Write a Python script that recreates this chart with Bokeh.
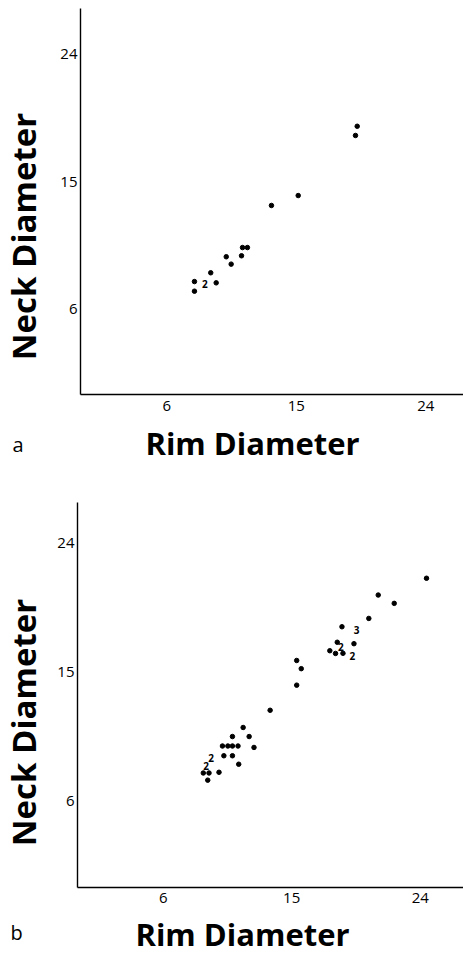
import math
from bokeh.plotting import figure
from bokeh.models import Range1d, FixedTicker, Label
from bokeh.layouts import column
from bokeh.embed import file_html
from bokeh.resources import INLINE
from bokeh.core.properties import value

# ---------------- data ----------------
tick_values = [6, 15, 24]
x_title = "Rim Diameter"
y_title = "Neck Diameter"

# panel a: single vessels
a_rim = [19.23, 19.11, 15.13, 13.27, 11.60, 11.26, 11.19, 10.13, 10.47, 9.05, 9.43, 7.92, 7.92]
a_neck = [18.93, 18.28, 14.04, 13.34, 10.37, 10.37, 9.79, 9.72, 9.20, 8.59, 7.88, 7.97, 7.29]
# panel a: coincident vessels (count shown as a number)
a_multi_rim = [8.64]
a_multi_neck = [7.81]
a_multi_count = ["2"]

# panel b: single vessels
b_rim = [24.44, 21.06, 22.18, 20.40, 18.52, 19.36, 18.19, 17.67, 18.07, 18.59,
         15.35, 15.67, 15.35, 13.49, 11.60, 10.85, 12.02, 10.15, 10.53, 10.85,
         11.24, 12.36, 10.25, 10.85, 11.29, 9.91, 8.81, 9.21, 9.12]
b_neck = [21.55, 20.38, 19.80, 18.75, 18.17, 16.99, 17.09, 16.50, 16.31, 16.32,
          15.82, 15.25, 14.10, 12.35, 11.15, 10.52, 10.52, 9.86, 9.86, 9.86,
          9.86, 9.76, 9.18, 9.18, 8.59, 8.03, 7.98, 7.98, 7.48]
# panel b: coincident vessels
b_multi_rim = [19.54, 18.45, 19.24, 9.35, 9.00]
b_multi_neck = [17.94, 16.76, 16.12, 9.04, 8.48]
b_multi_count = ["3", "2", "2", "2", "2"]

FONT = "Open Sans"


def screen_label(p, x, y, text, size, bold=False, align="left", angle=0.0):
    p.add_layout(Label(x=x, y=y, x_units="screen", y_units="screen", text=text,
                       text_font=FONT, text_font_size=size,
                       text_font_style="bold" if bold else "normal",
                       text_color="black", text_align=align,
                       text_baseline="alphabetic", angle=angle))


def make_panel(rim, neck, m_rim, m_neck, m_count, letter, height,
               x_range, y_range, x_axis_end, y_axis_end,
               letter_pos, xtitle_pos, ytitle_pos):
    p = figure(width=463, height=height,
               x_range=Range1d(*x_range), y_range=Range1d(*y_range),
               output_backend="svg", toolbar_location=None,
               min_border_left=0, min_border_right=0,
               min_border_top=0, min_border_bottom=0)
    p.outline_line_color = None
    p.grid.visible = False
    p.background_fill_color = "white"
    p.border_fill_color = "white"

    # axes drawn through the origin of the data, inside the canvas
    p.xaxis.fixed_location = 0
    p.yaxis.fixed_location = 0
    p.xaxis.bounds = (0, x_axis_end)
    p.yaxis.bounds = (0, y_axis_end)
    for ax in (p.xaxis[0], p.yaxis[0]):
        ax.ticker = FixedTicker(ticks=tick_values)
        ax.major_tick_line_color = None
        ax.minor_tick_line_color = None
        ax.major_tick_out = 0
        ax.major_tick_in = 0
        ax.minor_tick_out = 0
        ax.axis_line_color = "black"
        ax.axis_line_width = 1.4
        ax.major_label_text_font = FONT
        ax.major_label_text_font_size = "15px"
        ax.major_label_text_color = "black"
    p.xaxis.major_label_standoff = 6
    p.yaxis.major_label_standoff = 3

    p.scatter(rim, neck, size=4.5, color="black", marker="circle")
    p.text(m_rim, m_neck, text=m_count, text_font=value(FONT),
           text_font_style="bold", text_font_size="10px",
           text_align="center", text_baseline="middle", text_color="black")

    screen_label(p, letter_pos[0], letter_pos[1], letter, "20px")
    screen_label(p, xtitle_pos[0], xtitle_pos[1], x_title, "31px", bold=True, align="center")
    screen_label(p, ytitle_pos[0], ytitle_pos[1], y_title, "33px", bold=True, align="center",
                 angle=math.pi / 2)
    return p


pa = make_panel(a_rim, a_neck, a_multi_rim, a_multi_neck, a_multi_count, "a", 480,
                x_range=(-5.559, 26.616), y_range=(-6.069, 27.805),
                x_axis_end=26.616, y_axis_end=27.24,
                letter_pos=(12, 36), xtitle_pos=(252, 38), ytitle_pos=(23, 244))

pb = make_panel(b_rim, b_neck, b_multi_rim, b_multi_neck, b_multi_count, "b", 474,
                x_range=(-5.392, 27.031), y_range=(-4.669, 28.362),
                x_axis_end=27.031, y_axis_end=26.85,
                letter_pos=(10, 22), xtitle_pos=(242, 21), ytitle_pos=(23, 232))

layout = column(pa, pb, spacing=0)

open("out.html", "w").write(file_html(layout, INLINE))
